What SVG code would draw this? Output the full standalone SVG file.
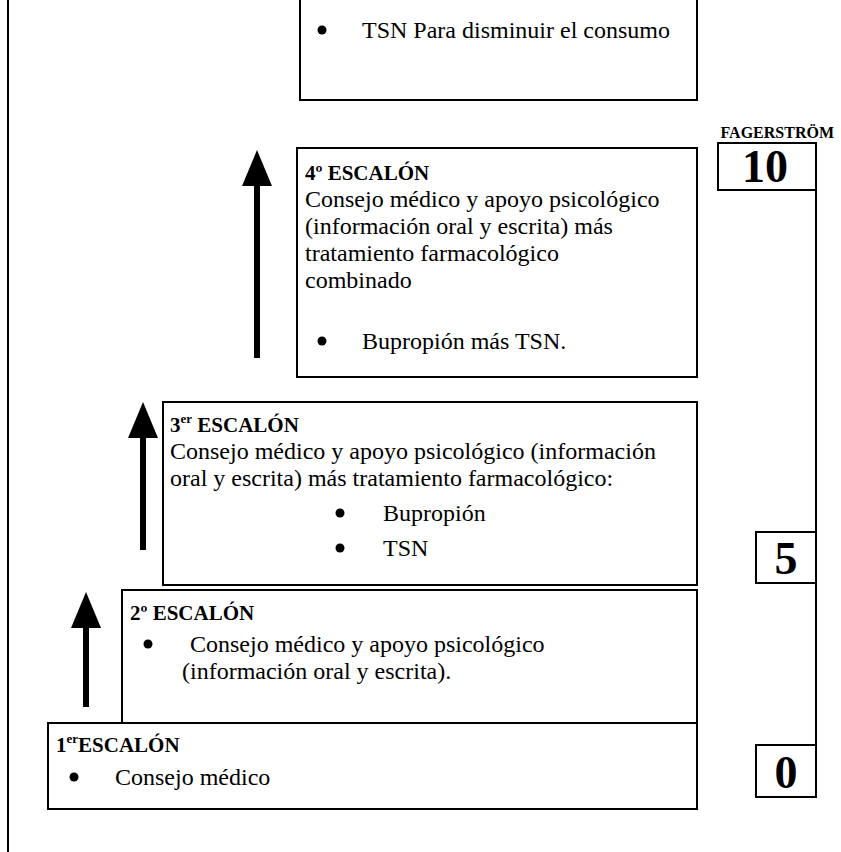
<svg xmlns="http://www.w3.org/2000/svg" width="841" height="852" viewBox="0 0 841 852">
<style>
text{font-family:"Liberation Serif","DejaVu Serif",serif;fill:#000}
.box{fill:#fff;stroke:#000;stroke-width:2}
.t{font-size:24px;font-weight:normal;font-style:normal}
.h{font-size:21px;font-weight:bold}
.f{font-size:16px;font-weight:bold;text-anchor:end}
.n{font-size:46px;font-weight:bold;text-anchor:middle}
.sup{font-size:13px}
.line{stroke:#000;stroke-width:2;fill:none}
.arrow{stroke:#000;stroke-width:6;fill:none}
</style>
<defs>
<marker id="ah" markerWidth="6" markerHeight="5" refX="0" refY="2.5" orient="auto" markerUnits="strokeWidth">
<path d="M0,0 L6,2.5 L0,5 z" fill="#000"/>
</marker>
</defs>
<line class="line" x1="8" y1="0" x2="8" y2="852"/>
<g id="top-box">
<rect class="box" x="300" y="-2" width="397" height="102"/>
<circle cx="322" cy="30" r="4.5"/>
<text class="t" x="362" y="38">TSN Para disminuir el consumo</text>
</g>
<g id="fagerstrom">
<text class="f" x="834" y="138">FAGERSTRÖM</text>
</g>
<g id="scale">
<line class="line" x1="816" y1="190" x2="816" y2="745"/>
</g>
<g id="n10">
<rect class="box" x="718" y="143" width="98" height="47"/>
<text class="n" x="765" y="182">10</text>
</g>
<g id="n5">
<rect class="box" x="756" y="532" width="60" height="51"/>
<text class="n" x="786" y="574">5</text>
</g>
<g id="n0">
<rect class="box" x="756" y="745" width="60" height="52"/>
<text class="n" x="786" y="788">0</text>
</g>
<g id="step4">
<rect class="box" x="297" y="148" width="400" height="229"/>
<text class="h" x="305" y="180">4º ESCALÓN</text>
<text class="t" x="305" y="207">Consejo médico y apoyo psicológico</text>
<text class="t" x="305" y="234">(información oral y escrita) más</text>
<text class="t" x="305" y="261">tratamiento farmacológico</text>
<text class="t" x="305" y="288">combinado</text>
<circle cx="322" cy="341" r="4.5"/>
<text class="t" x="362" y="349">Bupropión más TSN.</text>
</g>
<g id="step3">
<rect class="box" x="163" y="402" width="534" height="183"/>
<text class="h" x="170" y="432">3<tspan class="sup" dy="-9">er</tspan><tspan dy="9"> ESCALÓN</tspan></text>
<text class="t" x="170" y="459">Consejo médico y apoyo psicológico (información</text>
<text class="t" x="170" y="486">oral y escrita) más tratamiento farmacológico:</text>
<circle cx="340" cy="513" r="4.5"/>
<text class="t" x="383" y="521">Bupropión</text>
<circle cx="340" cy="548" r="4.5"/>
<text class="t" x="383" y="556">TSN</text>
</g>
<g id="step2">
<rect class="box" x="122" y="590" width="575" height="133"/>
<text class="h" x="130" y="620">2º ESCALÓN</text>
<circle cx="148" cy="644" r="4.5"/>
<text class="t" x="190" y="652">Consejo médico y apoyo psicológico</text>
<text class="t" x="182" y="679">(información oral y escrita).</text>
</g>
<g id="step1">
<rect class="box" x="48" y="723" width="649" height="86"/>
<text class="h" x="56" y="752">1<tspan class="sup" dy="-9">er</tspan><tspan dy="9">ESCALÓN</tspan></text>
<circle cx="74" cy="777" r="4.5"/>
<text class="t" x="115" y="785">Consejo médico</text>
</g>
<g id="connectors">
<line class="arrow" x1="257" y1="358" x2="257" y2="186" marker-end="url(#ah)"/>
<line class="arrow" x1="143" y1="550" x2="143" y2="438" marker-end="url(#ah)"/>
<line class="arrow" x1="86" y1="707" x2="86" y2="628" marker-end="url(#ah)"/>
</g>
</svg>
